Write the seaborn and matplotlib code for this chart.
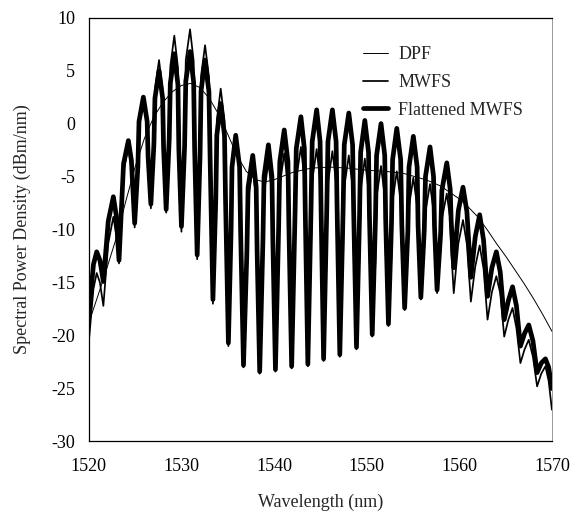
import matplotlib
matplotlib.use("Agg")
import matplotlib.pyplot as plt
import seaborn as sns
import pandas as pd

# ---------------- data ----------------
# DPF (smooth thin curve)
dpf_wl = [1520, 1521, 1522, 1523, 1524, 1525, 1526, 1527, 1528, 1529, 1530,
          1531, 1532, 1533, 1534, 1535, 1536, 1537, 1538, 1539, 1540,
          1542, 1544, 1546, 1548, 1550, 1552, 1554, 1556,
          1557, 1558, 1559, 1560, 1561, 1562, 1563, 1564, 1565, 1566,
          1567, 1568, 1569, 1570]
dpf_val = [-18.8, -16.2, -13.5, -10.7, -7.3, -4.1, -1.4, 0.6, 2.0, 3.0, 3.6,
           3.8, 3.4, 2.4, 0.9, -1.0, -3.0, -4.5, -5.3, -5.5, -5.3,
           -4.6, -4.2, -4.1, -4.2, -4.4, -4.5, -4.7, -5.2,
           -5.5, -5.9, -6.5, -7.1, -7.9, -8.8, -10.0, -11.3, -12.5, -13.8,
           -15.1, -16.5, -18.0, -19.6]

# MWFS spectra, read fringe by fringe (flanks, peak, trough)
mw_wl = [1520.00,
         1520.50, 1520.85, 1521.20, 1521.57,
         1522.10, 1522.65, 1522.95, 1523.26,
         1523.75, 1524.27, 1524.60, 1524.95,
         1525.30, 1525.42, 1525.89, 1526.30, 1526.40, 1526.70,
         1527.03, 1527.14, 1527.58, 1527.97, 1528.07, 1528.35,
         1528.68, 1528.80, 1529.23, 1529.62, 1529.72, 1530.00,
         1530.34, 1530.47, 1530.93, 1531.32, 1531.42, 1531.70,
         1532.01, 1532.12, 1532.55, 1532.97, 1533.09, 1533.40,
         1533.71, 1533.82, 1534.24, 1534.65, 1534.76, 1535.07,
         1535.36, 1535.46, 1535.86, 1536.28, 1536.39, 1536.70,
         1537.07, 1537.20, 1537.70, 1538.07, 1538.17, 1538.45,
         1538.80, 1538.92, 1539.39, 1539.77, 1539.87, 1540.15,
         1540.50, 1540.62, 1541.10, 1541.50, 1541.60, 1541.90,
         1542.27, 1542.40, 1542.90, 1543.27, 1543.37, 1543.65,
         1544.00, 1544.12, 1544.60, 1544.97, 1545.07, 1545.35,
         1545.70, 1545.82, 1546.30, 1546.70, 1546.80, 1547.10,
         1547.46, 1547.58, 1548.07, 1548.48, 1548.59, 1548.90,
         1549.23, 1549.35, 1549.80, 1550.20, 1550.30, 1550.60,
         1550.95, 1551.07, 1551.55, 1551.95, 1552.05, 1552.35,
         1552.68, 1552.80, 1553.25, 1553.67, 1553.79, 1554.10,
         1554.45, 1554.57, 1555.04, 1555.45, 1555.55, 1555.85,
         1556.22, 1556.35, 1556.84, 1557.22, 1557.32, 1557.60,
         1557.99, 1558.12, 1558.65, 1559.02, 1559.12, 1559.40,
         1559.90, 1560.40, 1560.82, 1561.25,
         1561.72, 1562.20, 1562.62, 1563.05,
         1563.52, 1564.00, 1564.42, 1564.85,
         1565.30, 1565.75, 1566.17, 1566.60,
         1567.05, 1567.50, 1567.95, 1568.40,
         1568.85, 1569.30, 1569.65, 1570.00]

flat_val = [-18.2,
            -13.3, -12.1, -12.9, -14.9,
            -9.2, -6.9, -8.6, -12.9,
            -3.8, -1.6, -3.5, -9.4,
            -4.0, 0.2, 2.5, 0.2, -3.1, -7.6,
            -1.9, 2.4, 5.0, 2.4, -2.2, -8.1,
            -1.5, 3.8, 6.6, 3.7, -2.4, -9.7,
            -2.2, 4.0, 6.8, 3.9, -2.2, -12.4,
            -3.0, 3.1, 6.0, 3.0, -3.0, -16.6,
            -7.1, -1.1, 1.9, -1.1, -7.1, -20.7,
            -10.1, -4.1, -1.1, -4.1, -10.1, -22.8,
            -12.0, -6.0, -3.0, -6.0, -12.0, -23.4,
            -11.0, -5.0, -2.0, -5.0, -11.0, -23.2,
            -9.6, -3.6, -0.6, -3.6, -9.6, -22.9,
            -8.35, -2.35, 0.65, -2.35, -8.35, -22.7,
            -7.7, -1.7, 1.3, -1.7, -7.7, -22.2,
            -7.7, -1.7, 1.3, -1.7, -7.7, -21.8,
            -8.0, -2.0, 1.0, -2.0, -8.0, -21.1,
            -8.7, -2.7, 0.3, -2.7, -8.7, -19.9,
            -9.0, -3.0, 0.0, -3.0, -9.0, -18.9,
            -9.45, -3.4, -0.45, -3.4, -9.45, -17.4,
            -10.1, -4.1, -1.2, -4.1, -9.6, -16.4,
            -10.0, -5.0, -2.2, -5.0, -9.6, -15.7,
            -10.3, -6.3, -3.7, -6.2, -9.1, -13.6,
            -8.2, -6.0, -8.3, -14.5,
            -10.7, -8.6, -11.0, -16.3,
            -13.6, -12.1, -14.0, -18.5,
            -16.7, -15.4, -17.2, -21.0,
            -19.8, -19.0, -20.5, -23.5,
            -22.6, -22.2, -23.0, -25.0]

mwfs_val = [-20.6,
            -15.6, -14.1, -15.0, -17.2,
            -11.3, -8.8, -10.4, -13.2,
            -4.5, -2.2, -4.2, -9.8,
            -4.2, 0.2, 2.6, 0.2, -3.2, -8.0,
            -1.7, 3.2, 6.0, 3.2, -1.9, -8.4,
            -0.7, 5.4, 8.3, 5.3, -0.7, -10.2,
            -0.1, 6.0, 8.9, 5.9, -0.1, -12.8,
            -1.6, 4.5, 7.4, 4.4, -1.6, -17.0,
            -5.7, 0.3, 3.3, 0.3, -5.7, -21.0,
            -10.4, -4.4, -1.4, -4.4, -10.4, -23.0,
            -13.2, -7.2, -4.2, -7.2, -13.2, -23.6,
            -12.6, -6.6, -3.6, -6.6, -12.6, -23.4,
            -11.8, -5.8, -2.8, -5.8, -11.8, -23.1,
            -11.2, -5.2, -2.2, -5.2, -11.2, -22.9,
            -11.4, -5.4, -2.4, -5.4, -11.4, -22.4,
            -11.6, -5.6, -2.6, -5.6, -11.6, -22.0,
            -12.0, -6.0, -3.0, -6.0, -12.0, -21.3,
            -12.3, -6.3, -3.3, -6.3, -12.3, -20.1,
            -12.9, -6.9, -4.0, -6.9, -12.3, -19.1,
            -12.5, -7.3, -4.5, -7.3, -11.7, -17.6,
            -12.0, -7.8, -5.1, -7.8, -11.4, -16.6,
            -11.7, -8.3, -5.7, -8.3, -11.4, -16.0,
            -11.8, -9.0, -6.6, -9.0, -11.8, -16.0,
            -11.3, -9.1, -11.4, -16.8,
            -13.5, -11.5, -13.7, -18.5,
            -15.9, -14.4, -16.0, -20.1,
            -18.5, -17.4, -19.3, -22.6,
            -21.3, -20.4, -22.0, -24.8,
            -23.6, -22.9, -24.3, -27.0]

x_ticks = [1520, 1530, 1540, 1550, 1560, 1570]
y_ticks = [-30, -25, -20, -15, -10, -5, 0, 5, 10]

# ---------------- styling ----------------
sns.set_theme(style="white")
plt.rcParams["font.family"] = ["Liberation Serif", "DejaVu Serif"]
plt.rcParams["axes.unicode_minus"] = False

fig = plt.figure(figsize=(5.82, 5.20), dpi=100)
ax = fig.add_axes([0.1526, 0.151, 0.7957, 0.815])

dpf_df = pd.DataFrame({"wl": dpf_wl, "p": dpf_val})
mw_df = pd.DataFrame({"wl": mw_wl, "mwfs": mwfs_val, "flat": flat_val})

sns.lineplot(data=dpf_df, x="wl", y="p", ax=ax, color="black",
             linewidth=0.7, label="DPF", sort=False)
sns.lineplot(data=mw_df, x="wl", y="mwfs", ax=ax, color="black",
             linewidth=1.25, label="MWFS", sort=False,
             solid_joinstyle="round")
sns.lineplot(data=mw_df, x="wl", y="flat", ax=ax, color="black",
             linewidth=3.4, label="Flattened MWFS", sort=False,
             solid_joinstyle="round")

ax.set_xlim(1520, 1570)
ax.set_ylim(-30, 10)
ax.set_xticks(x_ticks)
ax.set_yticks(y_ticks)
ax.tick_params(direction="in", length=5, width=0.8, colors="black",
               labelsize=13)
ax.tick_params(axis="x", pad=12)
ax.tick_params(axis="y", pad=10)
for side in ["left", "bottom", "top"]:
    ax.spines[side].set_color("black")
    ax.spines[side].set_linewidth(0.9)
ax.spines["right"].set_color("#888888")
ax.spines["right"].set_linewidth(0.6)

ax.set_xlabel("Wavelength (nm)", fontsize=13, labelpad=13)
ax.set_ylabel("Spectral Power Density (dBm/nm)", fontsize=13, labelpad=14)

leg = ax.legend(loc="upper left", bbox_to_anchor=(0.592, 0.933),
                frameon=False, fontsize=13, handlelength=1.4,
                handletextpad=0.55, labelspacing=0.6, borderpad=0,
                borderaxespad=0)
for h in leg.get_lines():
    h.set_color("black")

fig.savefig("out.png", dpi=100, facecolor="white")
